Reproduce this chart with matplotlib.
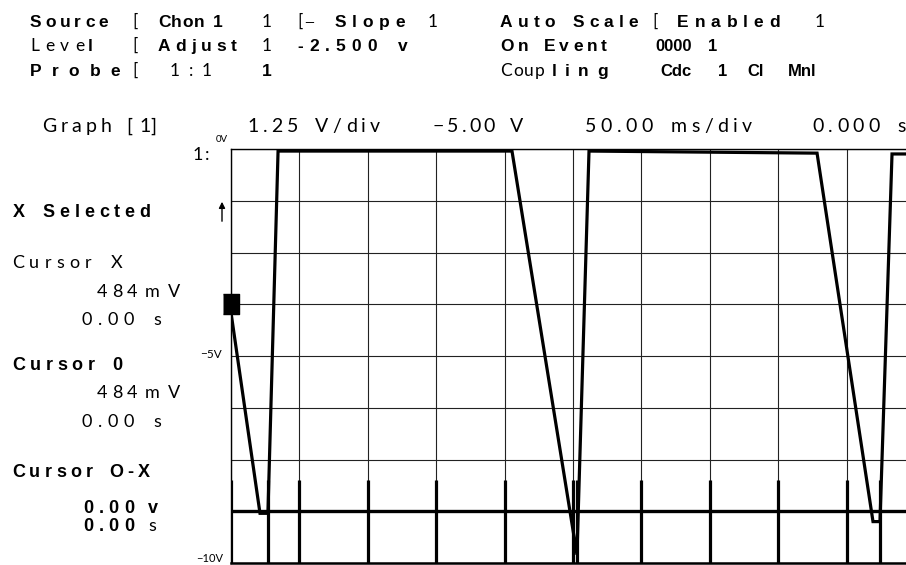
import numpy as np
import matplotlib
matplotlib.use("Agg")
from matplotlib import pyplot as plt

W, H = 906, 565

# trace: time (ms) vs level (V)
t_ms = [0, 21.2, 27.0, 34.4, 205.4, 252.9, 261.7, 428.4, 469.3, 474.4, 483.2, 500]
volts = [-3.95, -8.8, -8.8, -0.05, -0.05, -9.8, -0.05, -0.1, -9.0, -9.0, -0.12, -0.12]
rise_ms = [27.0, 252.9, 474.4]   # edge marks along the bottom band

ms_per_div = 50.0
v_per_div = 1.25
n_xdiv, n_ydiv = 10, 8
v_top = 0.0
cursor_ms, cursor_v = 0.0, -3.75

BOLD = dict(family=["Liberation Sans", "DejaVu Sans"], weight="bold", color="black")
LIGHT = dict(family=["Lato", "DejaVu Sans"], weight="normal", color="black")

# screen text: left px, right px (None = natural width), baseline px, text, style, size
status = [
    (30, 108, 27, "Source", "b", 12.5),
    (132, None, 27, "[", "l", 12.5),
    (158, 223, 27, "Chon 1", "b", 12.5),
    (262, None, 27, "1", "l", 12.5),
    (297, None, 27, "[", "l", 12.5),
    (304, None, 27, "\u2014", "l", 9),
    (335, 405, 27, "Slope", "b", 12.5),
    (428, None, 27, "1", "l", 12.5),
    (500, 638, 27, "Auto Scale", "b", 12.5),
    (652, None, 27, "[", "l", 12.5),
    (677, 780, 27, "Enabled", "b", 12.5),
    (815, None, 27, "1", "l", 12.5),
    (30, 84, 51, "Leve", "l", 12.5),
    (88, None, 51, "l", "b", 12.5),
    (132, None, 51, "[", "l", 12.5),
    (158, 237, 51, "Adjust", "b", 12.5),
    (262, None, 51, "1", "l", 12.5),
    (297, 377, 51, "-2.500", "b", 12.5),
    (398, None, 51, "v", "b", 12.5),
    (500, 607, 51, "On Event", "b", 12.5),
    (655, None, 51, "0000", "b", 12),
    (708, None, 51, "1", "b", 12),
    (30, 120, 76, "Probe", "b", 12.5),
    (132, None, 76, "[", "l", 12.5),
    (170, 212, 76, "1:1", "l", 12.5),
    (262, None, 76, "1", "b", 12.5),
    (500, 545, 76, "Coup", "l", 12.5),
    (552, 608, 76, "ling", "b", 12.5),
    (660, None, 76, "Cdc", "b", 12),
    (718, None, 76, "1", "b", 12),
    (747, None, 76, "Cl", "b", 12),
    (788, None, 76, "Mnl", "b", 12),
    # graph header
    (42, 112, 132, "Graph", "l", 14),
    (126, None, 132, "[", "l", 14),
    (139, None, 132, "1", "l", 14),
    (150, None, 132, "]", "l", 14),
    (247, 380, 132, "1.25 V/div", "l", 14),
    (433, 523, 132, "\u22125.00 V", "l", 14),
    (585, 752, 132, "50.00 ms/div", "l", 14),
    (812, 906, 132, "0.000 s", "l", 14),
    # cursor panel
    (13, 150, 217, "X Selected", "b", 13),
    (12, 122, 268, "Cursor X", "l", 13),
    (97, 137, 297, "484", "l", 13),
    (145, 180, 297, "mV", "l", 13),
    (82, 134, 325, "0.00", "l", 13),
    (153, None, 325, "s", "l", 13),
    (12, 122, 370, "Cursor 0", "b", 13),
    (97, 137, 398, "484", "l", 13),
    (145, 180, 398, "mV", "l", 13),
    (82, 134, 427, "0.00", "l", 13),
    (153, None, 427, "s", "l", 13),
    (12, 150, 477, "Cursor O-X", "b", 13),
    (83, 134, 513, "0.00", "b", 13),
    (148, None, 513, "v", "b", 13),
    (83, 134, 531, "0.00", "b", 13),
    (148, None, 531, "s", "l", 13),
]

fig = plt.figure(figsize=(W / 100, H / 100), dpi=100)
fig.patch.set_facecolor("white")
renderer = fig.canvas.get_renderer()


def put(x0, x1, y, s, style, size):
    # spread the glyphs so the word runs from x0 to x1 (tracked screen font)
    kw = BOLD if style == "b" else LIGHT
    if x1 is None:
        fig.text(x0 / W, 1 - y / H, s, ha="left", va="baseline", fontsize=size, **kw)
        return
    texts, widths = [], []
    for ch in s:
        if ch == " ":
            texts.append(None)
            widths.append(0.45 * size * 100 / 72)
        else:
            t = fig.text(0, 1 - y / H, ch, ha="left", va="baseline", fontsize=size, **kw)
            texts.append(t)
            widths.append(t.get_window_extent(renderer).width)
    gap = (x1 - x0 - sum(widths)) / max(len(s) - 1, 1)
    x = x0
    for t, w in zip(texts, widths):
        if t is not None:
            t.set_x(x / W)
        x += w + gap


# graticule: 231..915 px wide, 149..563 px tall (right edge runs off the sheet)
ax = fig.add_axes([231 / W, (H - 563) / H, (915 - 231) / W, (563 - 149) / H])
x_max = n_xdiv * ms_per_div
y_min = v_top - n_ydiv * v_per_div
ax.set_xlim(0, x_max)
ax.set_ylim(y_min, v_top)
ax.set_xticks(np.arange(0, x_max + 1, ms_per_div))
ax.set_yticks(np.arange(y_min, v_top + 0.01, v_per_div))
ax.tick_params(length=0, labelbottom=False, labelleft=False)
ax.grid(True, color="#222222", lw=0.8)
for side, sp in ax.spines.items():
    sp.set_color("black")
    sp.set_linewidth(1.0)
ax.spines["bottom"].set_linewidth(1.8)

# heavy band near the floor
ax.axhline(y_min + v_per_div, color="black", lw=2.4)
band_x = list(np.arange(0, x_max, ms_per_div)) + rise_ms
ax.vlines(band_x, y_min, -8.0, color="black", lw=2.3)

ax.plot(t_ms, volts, color="black", lw=2.3, solid_joinstyle="miter", clip_on=True)

# cursor block on the left edge
ax.plot([cursor_ms], [cursor_v], marker=[(-0.42, -0.5), (0.42, -0.5), (0.42, 0.5), (-0.42, 0.5)],
        markersize=14, color="black", clip_on=False)

for row in status:
    put(*row)

# scale labels beside the graticule
fig.text(228 / W, 1 - 140 / H, "0V", ha="right", va="center", fontsize=7, **LIGHT)
fig.text(222 / W, 1 - 355 / H, "\u22125V", ha="right", va="center", fontsize=8.5, **LIGHT)
fig.text(223 / W, 1 - 558 / H, "\u221210V", ha="right", va="center", fontsize=8, **LIGHT)
fig.text(193 / W, 1 - 160 / H, "1", ha="left", va="baseline", fontsize=13, **LIGHT)
fig.text(205 / W, 1 - 160 / H, ":", ha="left", va="baseline", fontsize=13, **LIGHT)
fig.add_artist(plt.Annotation("", xy=(222, H - 199), xytext=(222, H - 224),
                              xycoords="figure pixels", textcoords="figure pixels",
                              arrowprops=dict(arrowstyle="-|>", color="black", lw=1.0,
                                              mutation_scale=9)))

fig.savefig("out.png", dpi=100)
